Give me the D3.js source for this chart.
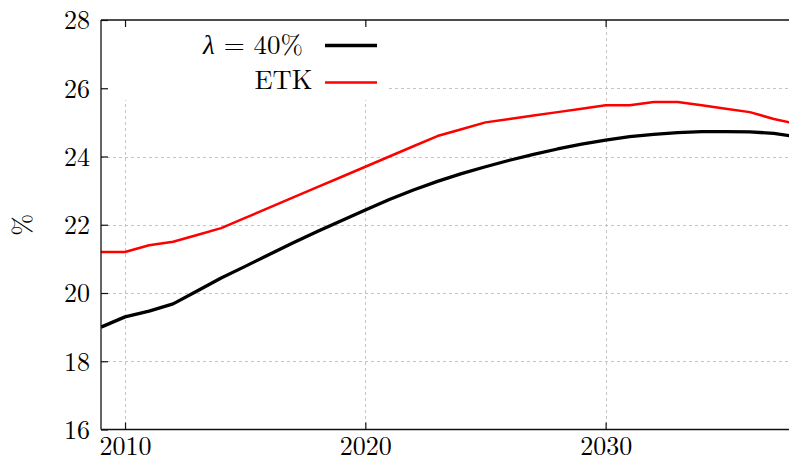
<!DOCTYPE html>
<html>
<head>
<meta charset="utf-8">
<script src="https://cdn.jsdelivr.net/npm/d3@7"></script>
<style>
  html, body { margin: 0; padding: 0; background: #fff; }
  svg { display: block; }
</style>
</head>
<body>
<svg id="chart" width="789" height="461"></svg>
<script>
// Yearly series
const years = [2009, 2010, 2011, 2012, 2013, 2014, 2015, 2016, 2017, 2018,
               2019, 2020, 2021, 2022, 2023, 2024, 2025, 2026, 2027, 2028,
               2029, 2030, 2031, 2032, 2033, 2034, 2035, 2036, 2037, 2038];
const lambda40 = [19.0, 19.3, 19.47, 19.68, 20.06, 20.44, 20.78, 21.13, 21.47, 21.8,
                  22.12, 22.43, 22.74, 23.02, 23.27, 23.5, 23.7, 23.89, 24.06, 24.22,
                  24.36, 24.48, 24.58, 24.65, 24.7, 24.73, 24.73, 24.72, 24.68, 24.57];
const etk = [21.2, 21.2, 21.4, 21.5, 21.7, 21.9, 22.2, 22.5, 22.8, 23.1,
             23.4, 23.7, 24.0, 24.3, 24.6, 24.8, 25.0, 25.1, 25.2, 25.3,
             25.4, 25.5, 25.5, 25.6, 25.6, 25.5, 25.4, 25.3, 25.1, 24.95];
const seriesNames = ["λ = 40%", "ETK"];
const xTicks = [2010, 2020, 2030];
const yTicks = [16, 18, 20, 22, 24, 26, 28];

const FONT = '"Latin Modern Roman", "Liberation Serif", serif';
const GREEK = '"Liberation Serif", serif';
const svg = d3.select("#chart");
const pLeft = 101, pTop = 20, pBottom = 429.5, pRight = 101 + 31 * 24.03;

const x = d3.scaleLinear().domain([2009, 2040]).range([pLeft, pRight]);
const y = d3.scaleLinear().domain([16, 28]).range([pBottom, pTop]);

svg.append("defs").append("clipPath").attr("id", "plotClip")
  .append("rect").attr("x", pLeft).attr("y", pTop)
  .attr("width", pRight - pLeft).attr("height", pBottom - pTop);

// grid
const grid = svg.append("g").attr("stroke", "#c4c4c4").attr("stroke-width", 1)
  .attr("stroke-dasharray", "3,3");
yTicks.filter(v => v > 16 && v < 28).forEach(v => {
  grid.append("line").attr("x1", pLeft).attr("x2", pRight)
    .attr("y1", Math.round(y(v)) + 0.5).attr("y2", Math.round(y(v)) + 0.5);
});
xTicks.forEach(v => {
  grid.append("line").attr("y1", pTop).attr("y2", pBottom)
    .attr("x1", Math.round(x(v)) + 0.5).attr("x2", Math.round(x(v)) + 0.5);
});

// legend background
svg.append("rect").attr("x", pLeft + 1).attr("y", pTop + 1)
  .attr("width", 285).attr("height", 79).attr("fill", "#fff");

// series lines
const line = (vals) => d3.line().x((d, i) => x(years[i])).y(d => y(d))(vals);
const plot = svg.append("g").attr("clip-path", "url(#plotClip)");
plot.append("path").attr("d", line(etk)).attr("fill", "none")
  .attr("stroke", "#ff0000").attr("stroke-width", 2.5).attr("stroke-linejoin", "round");
plot.append("path").attr("d", line(lambda40)).attr("fill", "none")
  .attr("stroke", "#000").attr("stroke-width", 3.3).attr("stroke-linejoin", "round");

// axes (inward ticks, mirrored on top)
const yAxis = d3.axisLeft(y).tickValues(yTicks).tickSize(-7).tickPadding(18).tickFormat(d3.format("d"));
const gy = svg.append("g").attr("transform", `translate(${pLeft},0)`).call(yAxis);
const xAxis = d3.axisBottom(x).tickValues(xTicks).tickSize(-7).tickPadding(14).tickFormat(d3.format("d"));
const gx = svg.append("g").attr("transform", `translate(0,${pBottom})`).call(xAxis);
const xTop = d3.axisTop(x).tickValues(xTicks).tickSize(-7).tickFormat("");
const gt = svg.append("g").attr("transform", `translate(0,${pTop})`).call(xTop);

[gy, gx, gt].forEach(g => {
  g.attr("font-family", null).attr("font-size", null);
  g.select(".domain").attr("stroke", "#111").attr("stroke-width", 1.3);
  g.selectAll(".tick line").attr("stroke", "#111").attr("stroke-width", 1.2);
  g.selectAll(".tick text").style("font-family", FONT)
    .style("font-size", "26px").attr("fill", "#000");
});
gy.selectAll(".tick text").attr("x", -11).attr("dy", "0.34em");
gx.selectAll(".tick text").attr("y", 25.5).attr("dy", 0);
gt.select(".domain").attr("d", `M${pLeft},0H789`);
gx.select(".domain").attr("d", `M${pLeft},0H789`);
gy.select(".domain").attr("d", `M0,${pTop}V${pBottom}`);

// y label
svg.append("text").attr("transform", `translate(31,225) rotate(-90)`)
  .attr("text-anchor", "middle").style("font-family", FONT).style("font-size", "26px").text("%");

// legend
const legend = svg.append("g");
const t1 = legend.append("text").attr("x", 303).attr("y", 54).attr("text-anchor", "end")
  .style("font-family", FONT).style("font-size", "27px")
  .attr("textLength", 100).attr("lengthAdjust", "spacingAndGlyphs");
t1.append("tspan").style("font-family", GREEK).style("font-style", "italic").text(seriesNames[0].slice(0, 1));
t1.append("tspan").text(seriesNames[0].slice(1));
legend.append("text").attr("x", 312.5).attr("y", 89).attr("text-anchor", "end")
  .style("font-family", FONT).style("font-size", "27px")
  .attr("textLength", 58).attr("lengthAdjust", "spacingAndGlyphs")
  .text(seriesNames[1]);
legend.append("line").attr("x1", 325).attr("x2", 377).attr("y1", 45.5).attr("y2", 45.5)
  .attr("stroke", "#000").attr("stroke-width", 3.3);
legend.append("line").attr("x1", 325).attr("x2", 377).attr("y1", 82.5).attr("y2", 82.5)
  .attr("stroke", "#ff0000").attr("stroke-width", 2.5);
</script>
</body>
</html>
